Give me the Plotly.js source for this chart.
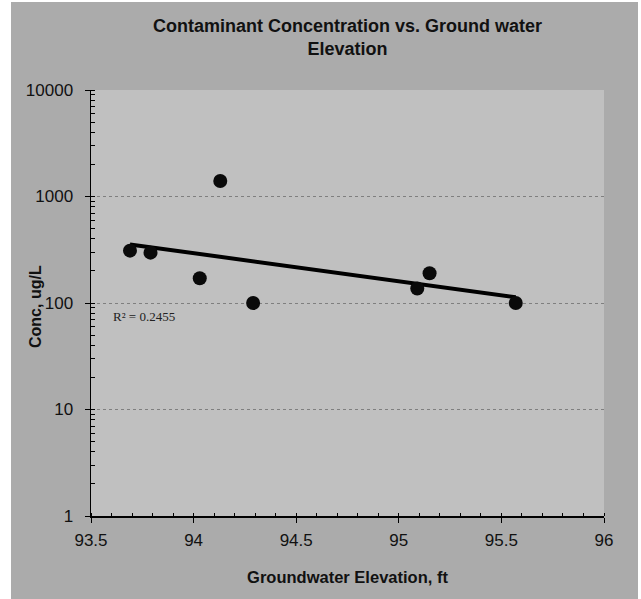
<!DOCTYPE html>
<html>
<head>
<meta charset="utf-8">
<script src="https://cdn.plot.ly/plotly-3.0.1.min.js"></script>
<style>
  html, body { margin: 0; padding: 0; background: #ffffff; width: 641px; height: 599px; overflow: hidden; }
  #chart { position: absolute; left: 11px; top: 2px; width: 627px; height: 597px; }
</style>
</head>
<body>
<div id="chart"></div>
<script>
// Data
const elevation = [93.69, 93.79, 94.13, 94.03, 94.29, 95.09, 95.15, 95.57];
const concentration = [310, 297, 1400, 171, 100, 137, 190, 100];
const yTickVals = [1, 10, 100, 1000, 10000];
const yTickText = ['1', '10', '100', '1000', '10000'];
const xTickVals = [93.5, 94, 94.5, 95, 95.5, 96];
const xTickText = ['93.5', '94', '94.5', '95', '95.5', '96'];
const r2Label = 'R² = 0.2455';

// Exponential trendline (least squares on log10 of concentration)
const n = elevation.length;
const ly = concentration.map(v => Math.log10(v));
const mx = elevation.reduce((a, b) => a + b, 0) / n;
const my = ly.reduce((a, b) => a + b, 0) / n;
let sxy = 0, sxx = 0;
for (let i = 0; i < n; i++) { sxy += (elevation[i] - mx) * (ly[i] - my); sxx += (elevation[i] - mx) ** 2; }
const slope = sxy / sxx;
const xmin = Math.min(...elevation), xmax = Math.max(...elevation);
const trendX = [xmin, xmax];
const trendY = trendX.map(x => Math.pow(10, my + slope * (x - mx)));

const FONT = 'Arial, "Liberation Sans", sans-serif';

const traces = [
  {
    x: trendX, y: trendY, type: 'scatter', mode: 'lines',
    line: { color: '#000000', width: 4 }, hoverinfo: 'skip', showlegend: false
  },
  {
    x: elevation, y: concentration, type: 'scatter', mode: 'markers',
    marker: { color: '#0a0a0a', size: 14 }, showlegend: false
  }
];

const layout = {
  width: 627, height: 597,
  paper_bgcolor: '#ababab',
  plot_bgcolor: '#c0c0c0',
  margin: { l: 80, r: 34, t: 88, b: 83 },
  showlegend: false,
  title: {
    text: '<b>Contaminant Concentration vs. Ground water<br>Elevation</b>',
    font: { family: FONT, size: 18, color: '#111111' },
    x: 0.5, xref: 'paper', xanchor: 'center',
    y: 1 - 30 / 597, yref: 'container', yanchor: 'top'
  },
  xaxis: {
    range: [93.5, 96],
    tickvals: xTickVals, ticktext: xTickText,
    ticks: 'outside', ticklen: 5, tickcolor: '#000000', tickwidth: 1,
    ticklabelstandoff: 3,
    showline: true, linecolor: '#000000', linewidth: 1.5,
    showgrid: false, zeroline: false,
    tickfont: { family: FONT, size: 17, color: '#111111' },
    minor: { ticks: 'inside', ticklen: 3, dtick: 0.1, tickcolor: '#000000', showgrid: false },
    title: {
      text: '<b>Groundwater Elevation, ft</b>',
      font: { family: FONT, size: 16.5, color: '#111111' },
      standoff: 22
    },
    fixedrange: true
  },
  yaxis: {
    type: 'log',
    range: [0, 4],
    tickvals: yTickVals, ticktext: yTickText,
    ticks: 'outside', ticklen: 5, tickcolor: '#000000', tickwidth: 1,
    ticklabelstandoff: 8,
    showline: true, linecolor: '#000000', linewidth: 1.5,
    showgrid: true, gridcolor: '#7f7f7f', griddash: 'dot', gridwidth: 1,
    zeroline: false,
    tickfont: { family: FONT, size: 17, color: '#111111' },
    minor: { ticks: 'inside', ticklen: 4, dtick: 'D1', tickcolor: '#000000', showgrid: false },
    fixedrange: true
  },
  annotations: [
    {
      text: r2Label, x: 93.756, y: Math.log10(74), xref: 'x', yref: 'y',
      showarrow: false, xanchor: 'center', yanchor: 'middle',
      font: { family: '"Times New Roman", "Liberation Serif", serif', size: 13, color: '#222222' }
    },
    {
      text: '<b>Conc, ug/L</b>', textangle: -90,
      x: (24 - 80) / 513, y: 1 - (305 - 88) / 426, xref: 'paper', yref: 'paper',
      showarrow: false, xanchor: 'center', yanchor: 'middle',
      font: { family: FONT, size: 16, color: '#111111' }
    }
  ]
};

Plotly.newPlot('chart', traces, layout, { displayModeBar: false, staticPlot: true });
</script>
</body>
</html>
